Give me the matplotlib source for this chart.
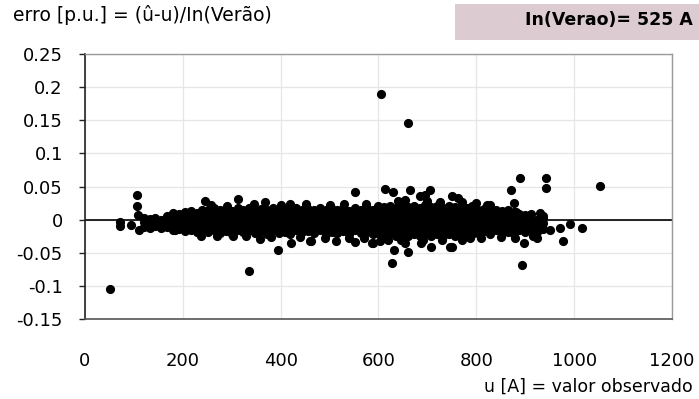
import matplotlib
matplotlib.use("Agg")
import matplotlib.pyplot as plt
from matplotlib.patches import Rectangle

# ---- data ----
u_colunas = [120, 132, 144, 156, 168,
             180, 192, 204, 216, 228, 240,
             252, 264, 276, 288, 300, 312, 324, 336, 348, 360, 372, 384, 396, 408,
             420, 432, 444, 456, 468, 480, 492, 504, 516, 528, 540, 552, 564, 576, 588,
             600, 612, 624, 636, 648, 660, 672, 684, 696, 708, 720, 732, 744, 756, 768,
             780, 792,
             804, 816, 828, 840, 852, 864, 876, 888,
             900, 912, 924, 936]

erro_colunas = [
    [-0.011, -0.004, 0.002],
    [-0.012, -0.006, 0.001],
    [-0.010, -0.003, 0.003],
    [-0.013, -0.006, 0.000],
    [-0.011, -0.004, 0.003, 0.006],
    [-0.016, -0.009, -0.002, 0.005, 0.010],
    [-0.014, -0.006, 0.002, 0.009],
    [-0.017, -0.010, -0.003, 0.004, 0.011],
    [-0.015, -0.007, 0.001, 0.008, 0.013],
    [-0.018, -0.011, -0.004, 0.003, 0.010],
    [-0.016, -0.008, 0.000, 0.007, 0.014],
    [-0.019, -0.010, -0.001, 0.008, 0.015],
    [-0.016, -0.006, 0.003, 0.012, 0.017],
    [-0.020, -0.011, -0.002, 0.006, 0.014],
    [-0.017, -0.008, 0.001, 0.010, 0.016],
    [-0.021, -0.012, -0.003, 0.005, 0.013],
    [-0.015, -0.006, 0.003, 0.011, 0.018],
    [-0.019, -0.010, -0.002, 0.007, 0.015],
    [-0.016, -0.007, 0.002, 0.010, 0.017],
    [-0.020, -0.012, -0.003, 0.006, 0.014],
    [-0.017, -0.008, 0.000, 0.009, 0.016],
    [-0.021, -0.011, -0.002, 0.006, 0.015],
    [-0.016, -0.007, 0.002, 0.011, 0.017],
    [-0.020, -0.010, -0.001, 0.007, 0.014],
    [-0.018, -0.008, 0.001, 0.010, 0.016],
    [-0.021, -0.012, -0.003, 0.005, 0.013],
    [-0.016, -0.006, 0.003, 0.011, 0.017],
    [-0.019, -0.010, -0.002, 0.007, 0.015],
    [-0.017, -0.008, 0.001, 0.009, 0.016],
    [-0.020, -0.011, -0.003, 0.006, 0.014],
    [-0.016, -0.007, 0.002, 0.010, 0.017],
    [-0.021, -0.012, -0.002, 0.007, 0.015],
    [-0.018, -0.009, 0.000, 0.009, 0.016],
    [-0.020, -0.011, -0.002, 0.006, 0.014],
    [-0.017, -0.007, 0.002, 0.011, 0.018],
    [-0.021, -0.012, -0.003, 0.005, 0.013],
    [-0.016, -0.008, 0.001, 0.010, 0.017],
    [-0.020, -0.010, -0.001, 0.007, 0.015],
    [-0.018, -0.009, 0.000, 0.009, 0.018],
    [-0.022, -0.012, -0.003, 0.006, 0.014],
    [-0.020, -0.011, -0.002, 0.007, 0.016, 0.020],
    [-0.024, -0.015, -0.006, 0.003, 0.012, 0.019],
    [-0.021, -0.012, -0.003, 0.006, 0.015, 0.021],
    [-0.025, -0.016, -0.007, 0.002, 0.011, 0.018],
    [-0.020, -0.011, -0.002, 0.008, 0.016, 0.022],
    [-0.024, -0.014, -0.005, 0.004, 0.013, 0.019],
    [-0.022, -0.012, -0.003, 0.006, 0.015, 0.021],
    [-0.025, -0.016, -0.007, 0.002, 0.011, 0.018],
    [-0.021, -0.011, -0.002, 0.007, 0.016, 0.022],
    [-0.024, -0.015, -0.006, 0.003, 0.012, 0.019],
    [-0.022, -0.012, -0.003, 0.006, 0.015, 0.020],
    [-0.025, -0.016, -0.007, 0.002, 0.011, 0.017],
    [-0.021, -0.011, -0.002, 0.007, 0.016, 0.021],
    [-0.024, -0.014, -0.005, 0.004, 0.013, 0.019],
    [-0.022, -0.012, -0.003, 0.006, 0.015, 0.020],
    [-0.025, -0.015, -0.006, 0.003, 0.012, 0.018],
    [-0.021, -0.011, -0.002, 0.007, 0.015, 0.020],
    [-0.020, -0.011, -0.002, 0.007, 0.014],
    [-0.017, -0.008, 0.001, 0.010, 0.016],
    [-0.021, -0.012, -0.003, 0.006, 0.013],
    [-0.016, -0.007, 0.002, 0.010, 0.015],
    [-0.020, -0.010, -0.001, 0.007, 0.013],
    [-0.018, -0.008, 0.001, 0.009, 0.014],
    [-0.021, -0.012, -0.003, 0.005, 0.012],
    [-0.016, -0.007, 0.002, 0.009],
    [-0.019, -0.010, -0.001, 0.007],
    [-0.015, -0.006, 0.003, 0.009],
    [-0.018, -0.009, 0.000],
    [-0.014, -0.005, 0.003],
]

# isolated / edge points
u_isolados = [52, 72, 72, 95, 107, 107, 109, 111, 133, 184, 238, 245, 313, 303,
              336, 358, 368, 395, 419, 422, 460, 463, 514, 552, 552, 586, 589,
              603, 606, 613, 627, 630, 632, 654, 661, 661, 664, 685, 686, 695,
              705, 707, 746, 750, 750, 763, 787, 821, 828, 870, 876, 882, 889,
              894, 898, 910, 923, 930, 937, 942, 942, 950, 971, 978, 991, 1015, 1053,
              258, 290, 345, 400, 452, 500, 530, 575, 640, 655, 700, 725, 770, 800,
              270, 330, 380, 440, 490, 540, 570, 620, 645, 690, 730, 770, 810, 850,
              880, 915]
erro_isolados = [-0.105, -0.004, -0.009, -0.008, 0.037, 0.020, 0.007, -0.016, -0.008,
                 -0.016, -0.024, 0.028, 0.031, -0.024, -0.078, -0.029, 0.027, -0.046,
                 0.024, -0.036, -0.032, -0.033, -0.032, 0.042, -0.034, -0.036, -0.036,
                 -0.033, 0.190, 0.046, -0.066, 0.042, -0.046, -0.036, 0.146, -0.049,
                 0.045, 0.036, -0.036, 0.037, 0.044, -0.041, -0.041, 0.036, -0.042,
                 0.033, -0.028, 0.022, 0.022, 0.045, 0.025, 0.012, 0.063, -0.068,
                 -0.036, 0.002, -0.028, 0.010, 0.005, 0.063, 0.048, -0.016, -0.013,
                 -0.032, -0.007, -0.013, 0.051,
                 0.022, 0.021, 0.023, 0.022, 0.023, 0.022, 0.024, 0.024, 0.028, 0.030,
                 0.028, 0.027, 0.027, 0.025,
                 -0.024, -0.025, -0.026, -0.026, -0.027, -0.027, -0.028, -0.031, -0.030,
                 -0.031, -0.030, -0.031, -0.027, -0.026, -0.028, -0.024]

x_ticks = [0, 200, 400, 600, 800, 1000, 1200]
y_ticks = [0.25, 0.2, 0.15, 0.1, 0.05, 0, -0.05, -0.1, -0.15]
y_tick_labels = ["0.25", "0.2", "0.15", "0.1", "0.05", "0", "-0.05", "-0.1", "-0.15"]

titulo = "erro [p.u.] = (û-u)/In(Verão)"
caixa = "In(Verao)= 525 A"
rotulo_x = "u [A] = valor observado"

# ---- build point lists ----
u_all, e_all = [], []
for u, ys in zip(u_colunas, erro_colunas):
    for y in ys:
        u_all.append(u)
        e_all.append(y)
u_all += u_isolados
e_all += erro_isolados

plt.rcParams['font.family'] = ['DejaVu Sans']
W, H = 699, 399
fig = plt.figure(figsize=(W / 100, H / 100), dpi=100)
ax = fig.add_axes([85 / W, (H - 319) / H, 587 / W, 265 / H])

ax.set_xlim(0, 1200)
ax.set_ylim(-0.15, 0.25)
ax.set_xticks(x_ticks)
ax.set_xticklabels([str(t) for t in x_ticks])
ax.set_yticks(y_ticks)
ax.set_yticklabels(y_tick_labels)

ax.grid(True, color="#e6e6e6", linewidth=0.9, zorder=0)
ax.set_axisbelow(True)
ax.axhline(0, color="black", linewidth=1.2, zorder=1)

ax.plot(u_all, e_all, linestyle="none", marker="o", markersize=6.6,
        markerfacecolor="black", markeredgecolor="black", markeredgewidth=0,
        zorder=3, clip_on=False)

for s in ["top", "right"]:
    ax.spines[s].set_color("#999999")
    ax.spines[s].set_linewidth(1.0)
ax.spines["left"].set_color("#222222")
ax.spines["left"].set_linewidth(1.2)
ax.spines["bottom"].set_color("#555555")
ax.spines["bottom"].set_linewidth(1.2)

ax.tick_params(axis="y", direction="out", length=4, width=1, color="#222222",
               labelsize=13, pad=12)
ax.tick_params(axis="x", length=0, labelsize=13, pad=24)

fig.text(13 / W, 1 - 15 / H, titulo, fontsize=13.5, ha="left", va="center")
fig.patches.append(Rectangle((455 / W, 1 - 40 / H), (699 - 455) / W, 36 / H,
                             transform=fig.transFigure, facecolor="#dccbd0",
                             edgecolor="none", zorder=1))
fig.text(1 - 6 / W, 1 - 20 / H, caixa, fontsize=12.5,
         fontweight="bold", ha="right", va="center", zorder=5)
fig.text(1 - 6 / W, 1 - 387 / H, rotulo_x, fontsize=12.5, ha="right", va="center")

fig.savefig("out.png", dpi=100)
